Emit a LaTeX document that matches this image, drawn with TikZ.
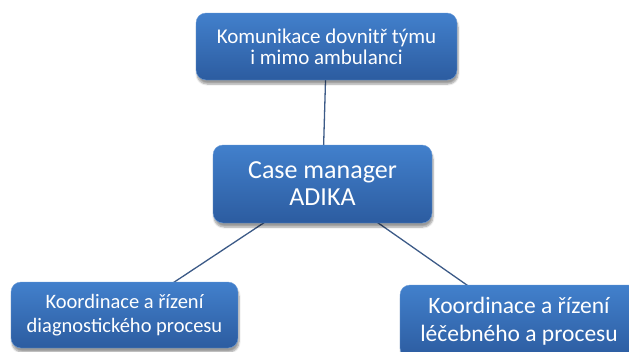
\documentclass[tikz,border=0pt]{standalone}
\usepackage{fontspec}
\setmainfont{Carlito}
\usetikzlibrary{shadows.blur,backgrounds}
\definecolor{boxtop}{RGB}{66,128,204}
\definecolor{boxbot}{RGB}{44,92,160}
\definecolor{linkc}{RGB}{60,90,135}
\tikzset{
  box/.style={rounded corners=10pt, top color=boxtop, bottom color=boxbot,
    draw=boxtop!80!white, line width=0.4pt, text=white, align=center,
    inner sep=0pt,
    blur shadow={shadow xshift=1pt, shadow yshift=-4pt, shadow blur steps=6, shadow opacity=40}},
  link/.style={draw=linkc, line width=1.3pt}
}
\begin{document}
\begin{tikzpicture}[x=1pt,y=-1pt]
\useasboundingbox (0,0) rectangle (629,351);
\clip (0,0) rectangle (629,351);
\node[box, minimum width=261pt, minimum height=67pt, font=\fontsize{21}{21}\selectfont] (top) at (326.5,46.5) {Komunikace dovnitř týmu\\i mimo ambulanci};
\node[box, minimum width=219pt, minimum height=78pt, font=\fontsize{26}{27}\selectfont] (ctr) at (322.5,184) {Case manager\\ADIKA};
\node[box, minimum width=227pt, minimum height=66pt, font=\fontsize{20.5}{24}\selectfont] (bl) at (124.5,315) {Koordinace a řízení\\diagnostického procesu};
\node[box, minimum width=238pt, minimum height=73pt, font=\fontsize{23.5}{28}\selectfont] (br) at (519,321.5) {Koordinace a řízení\\léčebného a procesu};
\begin{scope}[on background layer]
\draw[link] (top.center) -- (ctr.center);
\draw[link] (ctr.center) -- (bl.center);
\draw[link] (ctr.center) -- (br.center);
\end{scope}
\end{tikzpicture}
\end{document}
